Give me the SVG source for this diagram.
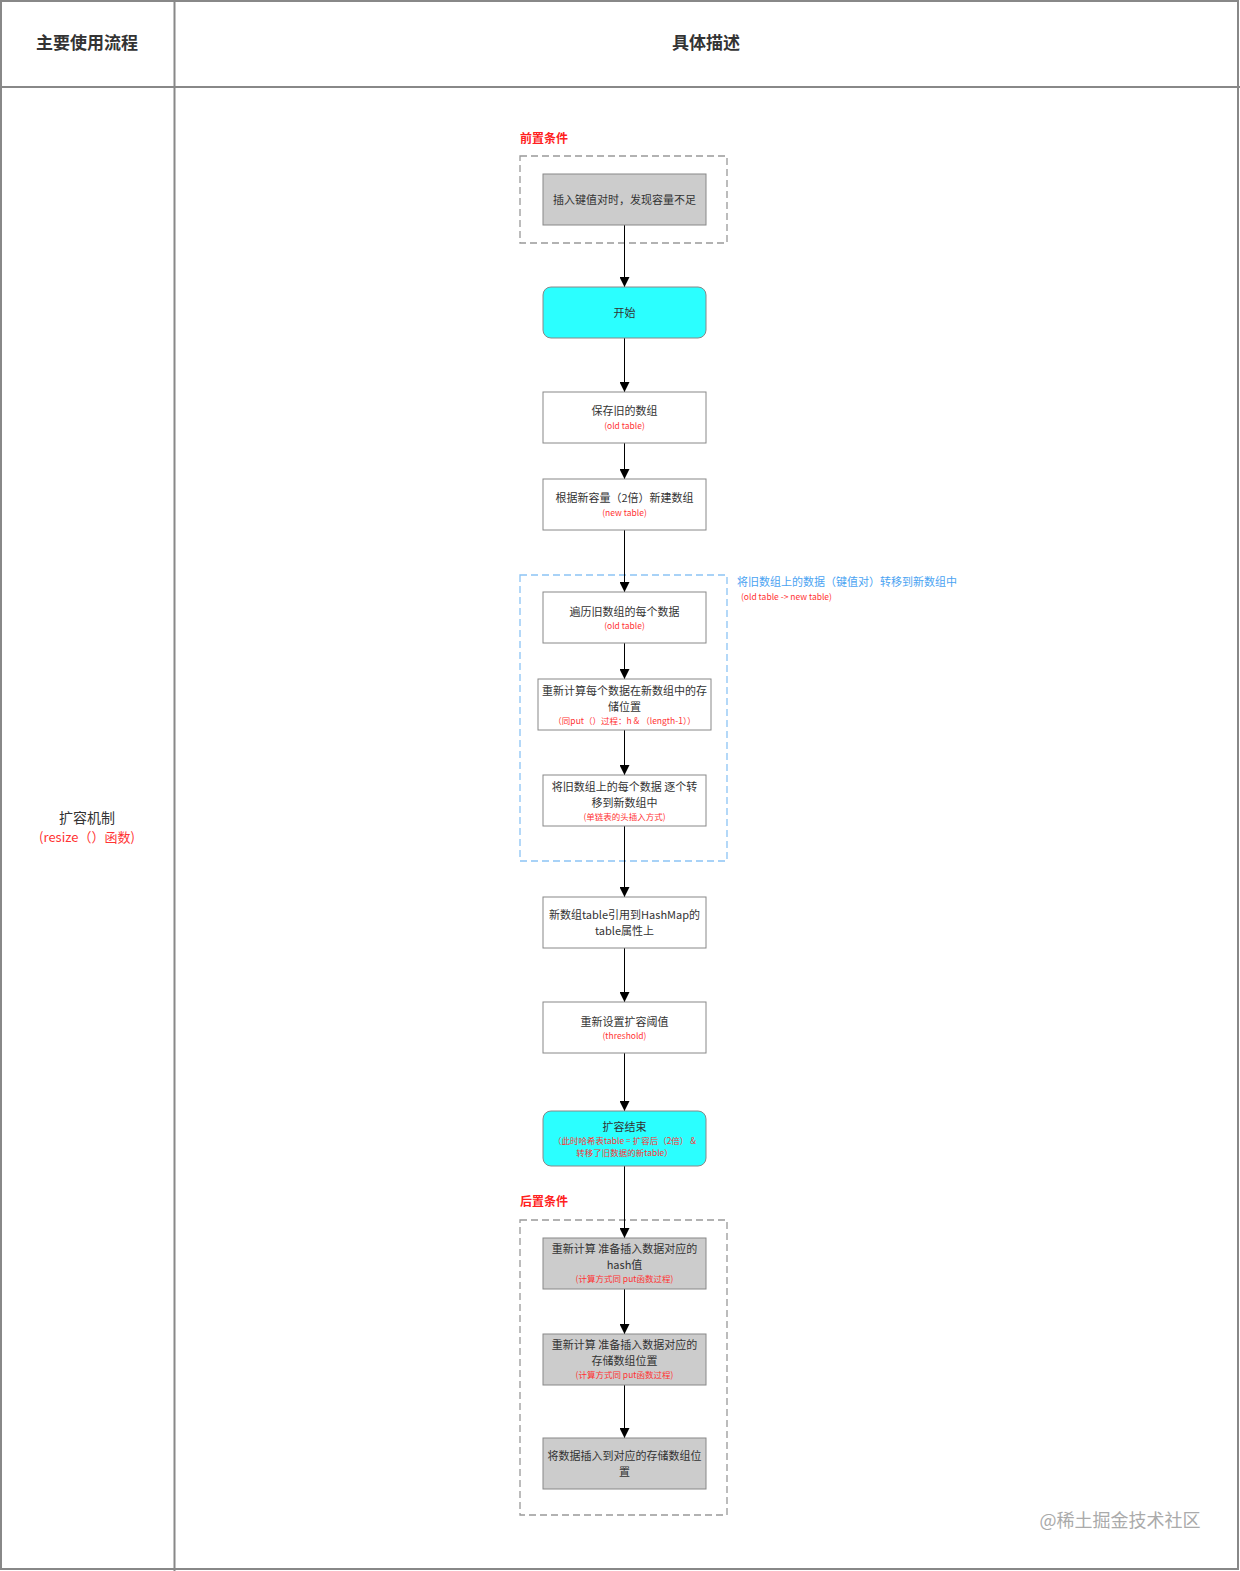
<svg xmlns="http://www.w3.org/2000/svg" width="1240" height="1571" viewBox="0 0 1240 1571">
<defs>
<marker id="arr" viewBox="0 0 10 10" refX="10" refY="5" markerWidth="10" markerHeight="10" markerUnits="userSpaceOnUse" orient="auto">
<path d="M0,0 L10,5 L0,10 z" fill="#000"/>
</marker>
</defs>
<style>
text{font-family:"Noto Sans CJK SC","Liberation Sans",sans-serif;text-anchor:middle}
.t{font-size:11px;fill:#333}
.r{font-size:8.5px;fill:#ff3333}
.box{fill:#fff;stroke:#888;stroke-width:1}
.gbox{fill:#cccccc;stroke:#888;stroke-width:1}
.cbox{fill:#2bffff;stroke:#888;stroke-width:1}
.dash{fill:none;stroke:#999;stroke-width:1.3;stroke-dasharray:7,4}
.bdash{fill:none;stroke:#8cc4f5;stroke-width:1.3;stroke-dasharray:7,4}
.c{stroke:#000;stroke-width:1;fill:none;marker-end:url(#arr)}
</style>
<rect width="1240" height="1571" fill="#fff"/>
<g id="table" fill="none" stroke="#888" stroke-width="2">
<rect x="1" y="1" width="1237" height="1568"/>
<line x1="174.5" y1="0" x2="174.5" y2="1571"/>
<line x1="0" y1="87" x2="1240" y2="87"/>
</g>
<g id="headers">
<text x="87" y="49" style="font-size:17px;font-weight:bold;fill:#333">主要使用流程</text>
<text x="706" y="49" style="font-size:17px;font-weight:bold;fill:#333">具体描述</text>
<text x="87" y="823" style="font-size:14px;fill:#333">扩容机制</text>
<text x="87" y="842" style="font-size:13px;fill:#ff3333">(resize（）函数)</text>
</g>
<g id="groups">
<rect class="dash" x="520" y="156" width="207" height="87"/>
<text x="520" y="143" style="font-size:12px;font-weight:bold;fill:#ff2020;text-anchor:start">前置条件</text>
<rect class="bdash" x="520" y="575" width="207" height="286"/>
<text x="737" y="586" style="font-size:11px;fill:#4aa3f2;text-anchor:start">将旧数组上的数据（键值对）转移到新数组中</text>
<text x="741" y="600" style="font-size:8.5px;fill:#ff3333;text-anchor:start">(old table -&gt; new table)</text>
<rect class="dash" x="520" y="1220" width="207" height="295"/>
<text x="520" y="1206" style="font-size:12px;font-weight:bold;fill:#ff2020;text-anchor:start">后置条件</text>
</g>
<g id="connectors">
<line class="c" x1="624.5" y1="225" x2="624.5" y2="287"/>
<line class="c" x1="624.5" y1="338" x2="624.5" y2="392"/>
<line class="c" x1="624.5" y1="443" x2="624.5" y2="479"/>
<line class="c" x1="624.5" y1="530" x2="624.5" y2="592"/>
<line class="c" x1="624.5" y1="643" x2="624.5" y2="679"/>
<line class="c" x1="624.5" y1="730" x2="624.5" y2="775"/>
<line class="c" x1="624.5" y1="826" x2="624.5" y2="897"/>
<line class="c" x1="624.5" y1="948" x2="624.5" y2="1002"/>
<line class="c" x1="624.5" y1="1053" x2="624.5" y2="1111"/>
<line class="c" x1="624.5" y1="1166" x2="624.5" y2="1238"/>
<line class="c" x1="624.5" y1="1289" x2="624.5" y2="1334"/>
<line class="c" x1="624.5" y1="1385" x2="624.5" y2="1438"/>
</g>
<g id="n1"><rect class="gbox" x="543" y="174" width="163" height="51"/><text class="t" x="624.5" y="204">插入键值对时，发现容量不足</text></g>
<g id="n2"><rect class="cbox" x="543" y="287" width="163" height="51" rx="8"/><text class="t" x="624.5" y="317">开始</text></g>
<g id="n3"><rect class="box" x="543" y="392" width="163" height="51"/><text class="t" x="624.5" y="415">保存旧的数组</text><text class="r" x="624.5" y="429">(old table)</text></g>
<g id="n4"><rect class="box" x="543" y="479" width="163" height="51"/><text class="t" x="624.5" y="502">根据新容量（2倍）新建数组</text><text class="r" x="624.5" y="516">(new table)</text></g>
<g id="n5"><rect class="box" x="543" y="592" width="163" height="51"/><text class="t" x="624.5" y="616">遍历旧数组的每个数据</text><text class="r" x="624.5" y="629">(old table)</text></g>
<g id="n6"><rect class="box" x="538" y="679" width="173" height="51"/><text class="t" x="624.5" y="695">重新计算每个数据在新数组中的存</text><text class="t" x="624.5" y="711">储位置</text><text class="r" x="624.5" y="724">（同put（）过程：h &amp; （length-1））</text></g>
<g id="n7"><rect class="box" x="543" y="775" width="163" height="51"/><text class="t" x="624.5" y="791">将旧数组上的每个数据 逐个转</text><text class="t" x="624.5" y="807">移到新数组中</text><text class="r" x="624.5" y="820">(单链表的头插入方式)</text></g>
<g id="n8"><rect class="box" x="543" y="897" width="163" height="51"/><text class="t" x="624.5" y="919">新数组table引用到HashMap的</text><text class="t" x="624.5" y="935">table属性上</text></g>
<g id="n9"><rect class="box" x="543" y="1002" width="163" height="51"/><text class="t" x="624.5" y="1026">重新设置扩容阈值</text><text class="r" x="624.5" y="1039">(threshold)</text></g>
<g id="n10"><rect class="cbox" x="543" y="1111" width="163" height="55" rx="8"/><text class="t" x="624.5" y="1131">扩容结束</text><text class="r" x="624.5" y="1144">（此时哈希表table = 扩容后（2倍） &amp;</text><text class="r" x="624.5" y="1156">转移了旧数据的新table）</text></g>
<g id="n11"><rect class="gbox" x="543" y="1238" width="163" height="51"/><text class="t" x="624.5" y="1253">重新计算 准备插入数据对应的</text><text class="t" x="624.5" y="1269">hash值</text><text class="r" x="624.5" y="1282">(计算方式同 put函数过程)</text></g>
<g id="n12"><rect class="gbox" x="543" y="1334" width="163" height="51"/><text class="t" x="624.5" y="1349">重新计算 准备插入数据对应的</text><text class="t" x="624.5" y="1365">存储数组位置</text><text class="r" x="624.5" y="1378">(计算方式同 put函数过程)</text></g>
<g id="n13"><rect class="gbox" x="543" y="1438" width="163" height="51"/><text class="t" x="624.5" y="1460">将数据插入到对应的存储数组位</text><text class="t" x="624.5" y="1476">置</text></g>
<text x="1120" y="1527" style="font-size:18px;fill:#aaa">@稀土掘金技术社区</text>
</svg>
